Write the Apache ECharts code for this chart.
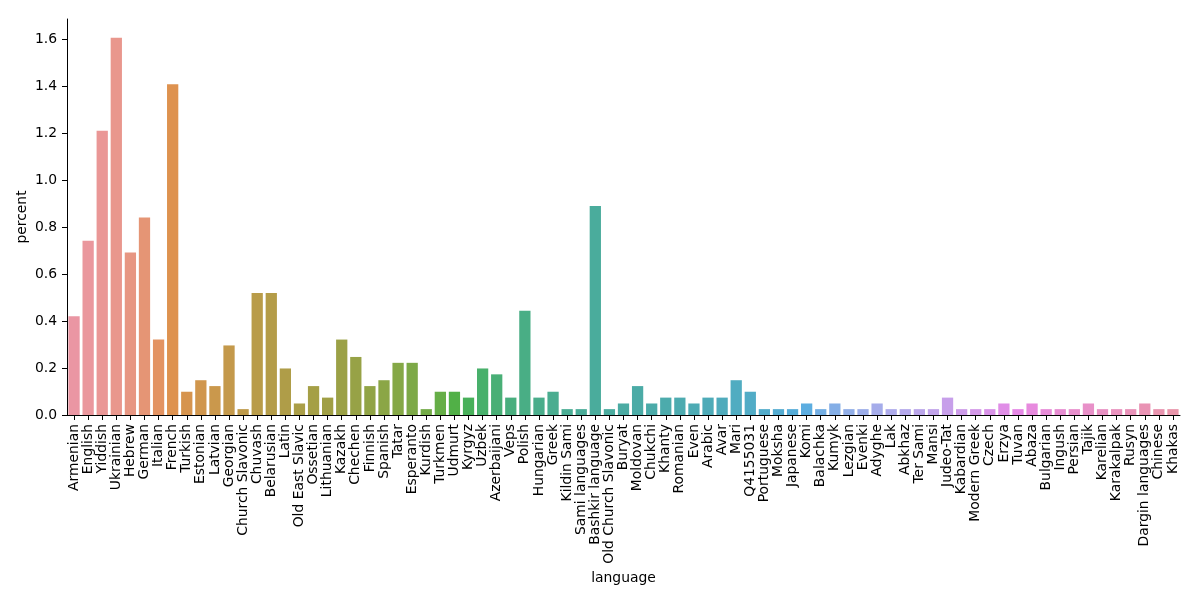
<!DOCTYPE html>
<html>
<head>
<meta charset="utf-8">
<script src="https://cdn.jsdelivr.net/npm/echarts@6/dist/echarts.min.js"></script>
<style>html,body{margin:0;padding:0;background:#fff}#c{width:1200px;height:600px}</style>
</head>
<body>
<div id="c"></div>
<script>
const languages = ["Armenian","English","Yiddish","Ukrainian","Hebrew","German","Italian","French","Turkish","Estonian","Latvian","Georgian","Church Slavonic","Chuvash","Belarusian","Latin","Old East Slavic","Ossetian","Lithuanian","Kazakh","Chechen","Finnish","Spanish","Tatar","Esperanto","Kurdish","Turkmen","Udmurt","Kyrgyz","Uzbek","Azerbaijani","Veps","Polish","Hungarian","Greek","Kildin Sami","Sami languages","Bashkir language","Old Church Slavonic","Buryat","Moldovan","Chukchi","Khanty","Romanian","Even","Arabic","Avar","Mari","Q4155031","Portuguese","Moksha","Japanese","Komi","Balachka","Kumyk","Lezgian","Evenki","Adyghe","Lak","Abkhaz","Ter Sami","Mansi","Judeo-Tat","Kabardian","Modern Greek","Czech","Erzya","Tuvan","Abaza","Bulgarian","Ingush","Persian","Tajik","Karelian","Karakalpak","Rusyn","Dargin languages","Chinese","Khakas"];
const percent = [0.420,0.741,1.210,1.605,0.691,0.840,0.321,1.407,0.099,0.148,0.123,0.296,0.025,0.519,0.519,0.198,0.049,0.123,0.074,0.321,0.247,0.123,0.148,0.222,0.222,0.025,0.099,0.099,0.074,0.198,0.173,0.074,0.444,0.074,0.099,0.025,0.025,0.889,0.025,0.049,0.123,0.049,0.074,0.074,0.049,0.074,0.074,0.148,0.099,0.025,0.025,0.025,0.049,0.025,0.049,0.025,0.025,0.049,0.025,0.025,0.025,0.025,0.074,0.025,0.025,0.025,0.049,0.025,0.049,0.025,0.025,0.025,0.049,0.025,0.025,0.025,0.049,0.025,0.025];
const yTicks = [0,0.2,0.4,0.6,0.8,1.0,1.2,1.4,1.6];

// seaborn husl palette (h=.01, s=.9, l=.7) desaturated by 0.75
const M = [[3.2406,-1.5372,-0.4986],[-0.9689,1.8758,0.0415],[0.0557,-0.2040,1.0570]];
const refU=0.19784, refV=0.46834, kappa=24389/27, eps=216/24389;
function maxChroma(L,H){
  const hr=H/360*2*Math.PI, sH=Math.sin(hr), cH=Math.cos(hr);
  const sub1=Math.pow(L+16,3)/1560896; const sub2=sub1>eps?sub1:L/kappa;
  let res=Infinity;
  for(const [m1,m2,m3] of M){
    const top=(0.99915*m1+1.05122*m2+1.14460*m3)*sub2;
    const rb=0.86330*m3-0.17266*m2, lb=0.12949*m3-0.38848*m1;
    const bottom=(rb*sH+lb*cH)*sub2;
    for(const t of [0,1]){const C=L*(top-1.05122*t)/(bottom+0.17266*sH*t); if(C>0&&C<res)res=C;}
  }
  return res;
}
function fromLinear(c){return c<=0.0031308?12.92*c:1.055*Math.pow(c,1/2.4)-0.055;}
function huslToRgb(H,S,L){
  const C=maxChroma(L,H)/100*S; const hr=H/360*2*Math.PI;
  const U=Math.cos(hr)*C, V=Math.sin(hr)*C;
  const Y = L>8?Math.pow((L+16)/116,3):L/kappa;
  const vU=U/(13*L)+refU, vV=V/(13*L)+refV;
  const X=-(9*Y*vU)/((vU-4)*vV-vU*vV);
  const Z=(9*Y-15*vV*Y-vV*X)/(3*vV);
  return M.map(r=>Math.min(1,Math.max(0,fromLinear(r[0]*X+r[1]*Y+r[2]*Z))));
}
function rgbToHls(r,g,b){const mx=Math.max(r,g,b),mn=Math.min(r,g,b);const l=(mx+mn)/2;if(mx===mn)return[0,l,0];const d=mx-mn;const s=l<=0.5?d/(mx+mn):d/(2-mx-mn);const rc=(mx-r)/d,gc=(mx-g)/d,bc=(mx-b)/d;let h;if(r===mx)h=bc-gc;else if(g===mx)h=2+rc-bc;else h=4+gc-rc;h=((h/6)%1+1)%1;return[h,l,s];}
function _v(m1,m2,h){h=((h%1)+1)%1;if(h<1/6)return m1+(m2-m1)*h*6;if(h<0.5)return m2;if(h<2/3)return m1+(m2-m1)*(2/3-h)*6;return m1;}
function hlsToRgb(h,l,s){if(s===0)return[l,l,l];const m2=l<=0.5?l*(1+s):l+s-l*s;const m1=2*l-m2;return[_v(m1,m2,h+1/3),_v(m1,m2,h),_v(m1,m2,h-1/3)];}
function palette(n){
  const out=[];
  for(let i=0;i<n;i++){
    let h=(i/n+0.01)%1; h*=359;
    const rgb=huslToRgb(h,0.9*99,0.7*99);
    const [hh,ll,ss]=rgbToHls(...rgb);
    const d=hlsToRgb(hh,ll,ss*0.75);
    out.push('rgb('+d.map(v=>Math.round(Math.min(1,Math.max(0,v))*255)).join(',')+')');
  }
  return out;
}
const colors = palette(languages.length);

const chart = echarts.init(document.getElementById('c'), null, {renderer:'canvas'});
const font = 'DejaVu Sans';
const fs = 13.9;
chart.setOption({
  animation:false,
  backgroundColor:'#ffffff',
  grid:{left:67,right:20,top:19,bottom:185,containLabel:false},
  xAxis:{
    type:'category', data:languages, boundaryGap:true,
    name:'language', nameLocation:'middle', nameGap:156, nameMoveOverlap:false,
    nameTextStyle:{fontFamily:font,fontSize:fs,color:'#000'},
    axisLine:{lineStyle:{color:'#000',width:1}},
    axisTick:{show:true,alignWithLabel:true,length:5,inside:false,lineStyle:{color:'#000'}},
    axisLabel:{rotate:90,interval:0,fontFamily:font,fontSize:fs,color:'#000',margin:9}
  },
  yAxis:{
    type:'value', min:0, max:1.685, interval:0.2,
    name:'percent', nameLocation:'middle', nameGap:38, nameMoveOverlap:false,
    nameTextStyle:{fontFamily:font,fontSize:fs,color:'#000'},
    axisLine:{show:true,lineStyle:{color:'#000',width:1}},
    axisTick:{show:true,length:5,lineStyle:{color:'#000'}},
    splitLine:{show:false},
    axisLabel:{fontFamily:font,fontSize:fs,color:'#000',margin:10,showMaxLabel:false,
      formatter:v=>{const t=yTicks.find(x=>Math.abs(x-v)<1e-6);return t===undefined?'':t.toFixed(1);}}
  },
  series:[{
    type:'bar', barCategoryGap:'20%',
    data:percent.map((v,i)=>({value:v,itemStyle:{color:colors[i]}}))
  }]
});
</script>
</body>
</html>
